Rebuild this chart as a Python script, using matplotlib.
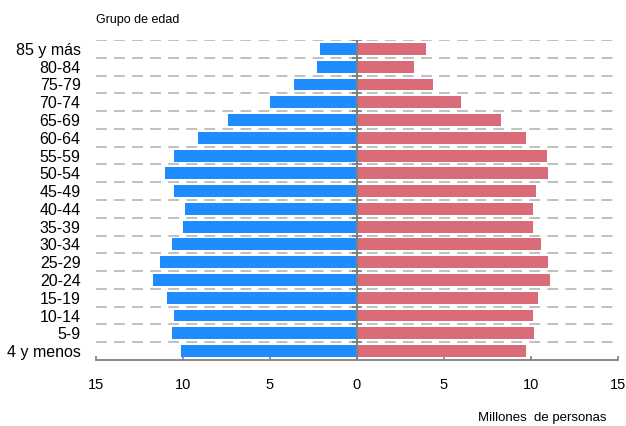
from matplotlib import pyplot as plt
import numpy

# age groups, bottom to top
groups = ['4 y menos', '5-9', '10-14', '15-19', '20-24', '25-29', '30-34',
          '35-39', '40-44', '45-49', '50-54', '55-59', '60-64', '65-69',
          '70-74', '75-79', '80-84', '85 y más']

# millions of people (left side / right side)
left_vals = [10.1, 10.6, 10.5, 10.9, 11.7, 11.3, 10.6, 10.0, 9.9, 10.5,
             11.0, 10.5, 9.1, 7.4, 5.0, 3.6, 2.3, 2.1]
right_vals = [9.7, 10.2, 10.1, 10.4, 11.1, 11.0, 10.6, 10.1, 10.1, 10.3,
              11.0, 10.9, 9.7, 8.3, 6.0, 4.4, 3.3, 4.0]

xticks = [-15, -10, -5, 0, 5, 10, 15]


def main():
    plt.rcParams['font.family'] = ['Liberation Sans', 'DejaVu Sans']

    fig = plt.figure(figsize=(6.26, 4.26), dpi=100)
    ax = fig.add_axes([0.153, 0.155, 0.834, 0.751])

    y = numpy.arange(len(groups))
    ax.barh(y, -numpy.array(left_vals), height=0.67, color='#1E8BFF',
            zorder=3)
    ax.barh(y, right_vals, height=0.67, color='#DA6B78', zorder=3)

    # dashed separators between groups
    for b in numpy.arange(0.5, len(groups), 1.0):
        ax.axhline(b, color='#BBBBBB', linewidth=1.3, dashes=(6, 4),
                   zorder=1)
    # centre line with small ticks
    ax.axvline(0, color='#808080', linewidth=1.5, zorder=4)
    ax.plot(numpy.zeros(len(groups)), numpy.arange(0.5, len(groups), 1.0),
            linestyle='none', marker='_', markersize=7, color='#808080',
            markeredgewidth=1.3, zorder=4)

    ax.set_xlim(-15, 15)
    ax.set_ylim(-0.5, len(groups) - 0.5)

    ax.set_yticks(y)
    ax.set_yticklabels(groups, fontsize=11.5)
    ax.tick_params(axis='y', length=0, pad=11)

    ax.set_xticks(xticks)
    ax.set_xticklabels([str(abs(t)) for t in xticks], fontsize=10.5)
    ax.tick_params(axis='x', direction='in', length=3, color='#808080',
                   width=1.2, pad=13)

    for side in ['top', 'right', 'left']:
        ax.spines[side].set_visible(False)
    ax.spines['bottom'].set_color('#808080')
    ax.spines['bottom'].set_linewidth(1.3)

    fig.text(96 / 626, 1 - 20 / 426, 'Grupo de edad', fontsize=9,
             ha='left', va='center')
    fig.text(607 / 626, 1 - 418 / 426, 'Millones  de personas', fontsize=9.5,
             ha='right', va='center')

    fig.savefig('out.png', dpi=100)


if __name__ == '__main__':
    main()
